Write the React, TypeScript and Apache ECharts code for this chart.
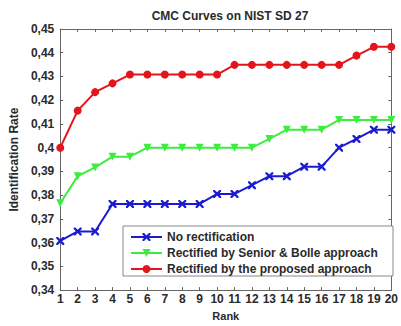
import React, { useEffect, useRef } from "react";
import * as echarts from "echarts";

const ranks = [1, 2, 3, 4, 5, 6, 7, 8, 9, 10, 11, 12, 13, 14, 15, 16, 17, 18, 19, 20];
const noRect = [0.3607, 0.3647, 0.3647, 0.3763, 0.3763, 0.3763, 0.3763, 0.3763, 0.3763, 0.3805, 0.3805, 0.3842, 0.388, 0.388, 0.392, 0.392, 0.4, 0.4037, 0.4076, 0.4076];
const senior = [0.3766, 0.388, 0.3917, 0.3962, 0.3962, 0.4, 0.4, 0.4, 0.4, 0.4, 0.4, 0.4, 0.4037, 0.4076, 0.4076, 0.4076, 0.4117, 0.4117, 0.4117, 0.4117];
const proposed = [0.4, 0.4156, 0.4234, 0.4271, 0.4308, 0.4308, 0.4308, 0.4308, 0.4308, 0.4308, 0.4349, 0.4349, 0.4349, 0.4349, 0.4349, 0.4349, 0.4349, 0.4388, 0.4425, 0.4425];
const seriesNames = [
  "No rectification",
  "Rectified by Senior & Bolle approach",
  "Rectified by the proposed approach",
];
const titleText = "CMC Curves on NIST SD 27";
const xName = "Rank";
const yName = "Identification Rate";

const FONT = "'Liberation Sans', Arial, sans-serif";
const crossPath = "path://M0,0 L2,0 L5,3 L8,0 L10,0 L10,2 L7,5 L10,8 L10,10 L8,10 L5,7 L2,10 L0,10 L0,8 L3,5 L0,2 Z";
const BLUE = "#1a1ad0";
const GREEN = "#3ded3d";
const RED = "#e3141c";

export default function App() {
  const ref = useRef<HTMLDivElement>(null);
  useEffect(() => {
    if (!ref.current) return;
    const chart = echarts.init(ref.current, null, { renderer: "svg" });
    const fmtY = (v: number) => String(Number(v.toFixed(2))).replace(".", ",");
    const tickStyle = { inside: true, length: 3, lineStyle: { color: "#666", width: 1 } };
    const mk = (vals: number[]) => ranks.map((r, i) => [r, vals[i]]);
    const txt = { fontFamily: FONT, fontWeight: "bold" as const, color: "#2a2a2a" };
    chart.setOption({
      animation: false,
      backgroundColor: "#fff",
      title: {
        text: titleText,
        left: 225,
        textAlign: "center",
        top: 5,
        textStyle: { ...txt, fontSize: 12 },
      },
      grid: { left: 57, right: 6, top: 29, bottom: 31, containLabel: false },
      graphic: [
        {
          type: "rect",
          z: 50,
          shape: { x: 123, y: 226, width: 270, height: 50 },
          style: { fill: "#fff", stroke: "#888", lineWidth: 1 },
        },
      ],
      legend: {
        z: 60,
        orient: "vertical",
        left: 123,
        top: 226,
        padding: [5, 6, 2, 7],
        itemGap: 4,
        itemWidth: 31,
        itemHeight: 10,
        textStyle: { ...txt, fontSize: 12 },
        data: seriesNames,
      },
      xAxis: [
        {
          type: "value",
          min: 1,
          max: 20,
          interval: 1,
          name: xName,
          nameLocation: "middle",
          nameGap: 19,
          nameTextStyle: { ...txt, fontSize: 11 },
          axisLine: { lineStyle: { color: "#666", width: 1 } },
          axisTick: tickStyle,
          axisLabel: { ...txt, fontSize: 12, margin: 3 },
          splitLine: { show: false },
        },
        {
          type: "value",
          position: "top",
          min: 1,
          max: 20,
          interval: 1,
          axisLine: { lineStyle: { color: "#666", width: 1 } },
          axisTick: tickStyle,
          axisLabel: { show: false },
          splitLine: { show: false },
        },
      ],
      yAxis: [
        {
          type: "value",
          min: 0.34,
          max: 0.45,
          interval: 0.01,
          name: yName,
          nameLocation: "middle",
          nameGap: 36,
          nameTextStyle: { ...txt, fontSize: 12 },
          axisLine: { show: true, lineStyle: { color: "#666", width: 1 } },
          axisTick: { show: true, ...tickStyle },
          axisLabel: { ...txt, fontSize: 12, margin: 6, formatter: fmtY },
          splitLine: { show: false },
        },
        {
          type: "value",
          position: "right",
          min: 0.34,
          max: 0.45,
          interval: 0.01,
          axisLine: { show: true, lineStyle: { color: "#666", width: 1 } },
          axisTick: { show: true, ...tickStyle },
          axisLabel: { show: false },
          splitLine: { show: false },
        },
      ],
      series: [
        {
          name: seriesNames[0],
          type: "line",
          data: mk(noRect),
          symbol: crossPath,
          symbolSize: 8,
          color: BLUE,
          lineStyle: { width: 2, color: BLUE },
          itemStyle: { color: BLUE },
        },
        {
          name: seriesNames[1],
          type: "line",
          data: mk(senior),
          symbol: "triangle",
          symbolRotate: 180,
          symbolSize: 8,
          color: GREEN,
          lineStyle: { width: 2, color: GREEN },
          itemStyle: { color: GREEN },
        },
        {
          name: seriesNames[2],
          type: "line",
          data: mk(proposed),
          symbol: "circle",
          symbolSize: 8,
          color: RED,
          lineStyle: { width: 2, color: RED },
          itemStyle: { color: RED },
        },
      ],
    });
    return () => chart.dispose();
  }, []);
  return (
    <div
      ref={ref}
      style={{ position: "absolute", left: 0, top: 0, width: 401, height: 326 }}
    />
  );
}
